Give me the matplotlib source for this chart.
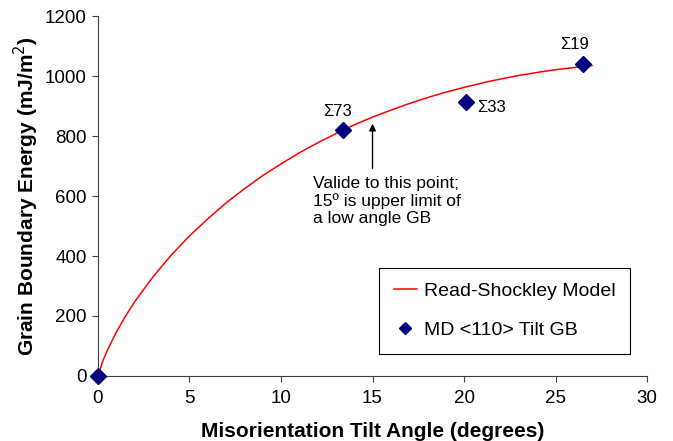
import matplotlib.pyplot as plt

plt.rcParams['font.family'] = ['Liberation Sans', 'DejaVu Sans']

# Read-Shockley model curve
model_angle = [0, 0.25, 0.5, 1, 1.5, 2, 3, 4, 5, 6, 7, 8, 9, 10, 11, 12, 13,
               14, 15, 16, 17, 18, 19, 20, 21, 22, 23, 24, 25, 26, 27]
model_energy = [0, 48, 84, 146, 199, 247, 330, 403, 467, 524, 577, 624, 668,
                707, 744, 777, 808, 837, 863, 886, 908, 928, 946, 962, 977,
                990, 1002, 1012, 1021, 1028, 1035]

# MD <110> tilt grain boundaries
md_angle = [0, 13.4, 20.1, 26.5]
md_energy = [0, 820, 915, 1040]

fig = plt.figure(figsize=(6.73, 4.41), dpi=100)
ax = fig.add_axes([0.1456, 0.1474, 0.8158, 0.8163])

ax.plot(model_angle, model_energy, color="red", lw=1.1, label="Read-Shockley Model")
ax.plot(md_angle, md_energy, ls="none", marker="D", ms=8, color="#00007f",
        clip_on=False, zorder=5, label="MD <110> Tilt GB")

ax.annotate("Σ73", (md_angle[1], md_energy[1]), xytext=(-4, 13),
            textcoords="offset points", ha="center", va="center", fontsize=12)
ax.annotate("Σ33", (md_angle[2], md_energy[2]), xytext=(8, -4),
            textcoords="offset points", ha="left", va="center", fontsize=12)
ax.annotate("Σ19", (md_angle[3], md_energy[3]), xytext=(-6, 14),
            textcoords="offset points", ha="center", va="center", fontsize=12)

ax.annotate("", xy=(15, 850), xytext=(15, 683),
            arrowprops=dict(arrowstyle="-|>", color="black", lw=1,
                            mutation_scale=10))
ax.text(11.75, 668, "Valide to this point;\n15º is upper limit of\na low angle GB",
        ha="left", va="top", fontsize=12.5, linespacing=1.2)

ax.set_xlim(0, 30)
ax.set_ylim(0, 1200)
ax.set_xticks(range(0, 31, 5))
ax.set_yticks(range(0, 1201, 200))
ax.tick_params(labelsize=13.5, color="#404040", length=4)
ax.tick_params(axis="x", pad=6)
ax.tick_params(axis="y", pad=4)
for s in ["top", "right"]:
    ax.spines[s].set_visible(False)
for s in ["left", "bottom"]:
    ax.spines[s].set_color("#404040")

ax.set_xlabel("Misorientation Tilt Angle (degrees)", fontsize=15,
              fontweight="bold", labelpad=11)
ax.set_ylabel("Grain Boundary Energy (mJ/m$^2$)", fontsize=15,
              fontweight="bold", labelpad=3)

leg = ax.legend(loc="upper left", bbox_to_anchor=(0.512, 0.30), borderaxespad=0,
                fontsize=14, fancybox=False, edgecolor="black", handlelength=1.2,
                handletextpad=0.35, labelspacing=1.1, borderpad=0.75,
                markerscale=0.8, framealpha=1)
leg.get_frame().set_linewidth(0.8)

fig.savefig("out.png", dpi=100)
